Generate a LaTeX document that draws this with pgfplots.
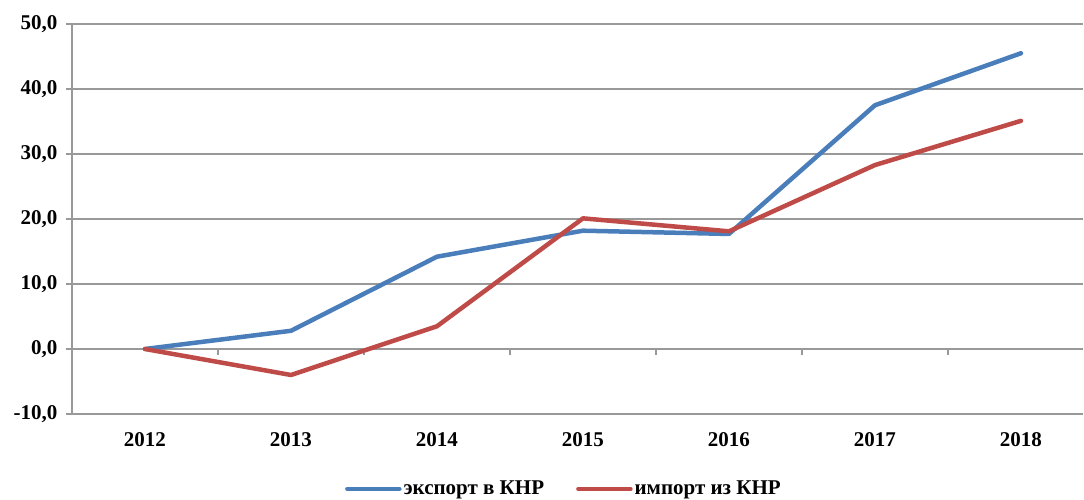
\documentclass[border=0pt]{standalone}
\usepackage{pgfplots}
\pgfplotsset{compat=1.18}
\usepackage{fontspec}
\setmainfont{Liberation Serif}
\definecolor{cblue}{HTML}{4A7EBB}
\definecolor{cred}{HTML}{BE4B48}
\definecolor{cgrid}{HTML}{999999}
\begin{document}
\begin{tikzpicture}[font=\fontsize{21}{25}\selectfont\bfseries]
\begin{axis}[
  scale only axis, width=1011pt, height=390pt,
  xmin=-0.5, xmax=6.425, ymin=-10, ymax=50,
  axis x line*=bottom, x axis line style={draw=none},
  axis y line*=left, y axis line style={draw=cgrid, line width=1.5pt},
  xtick={0,...,6}, xticklabels={2012,2013,2014,2015,2016,2017,2018},
  major x tick style={draw=none},
  ytick={-10,0,10,20,30,40,50},
  yticklabels={{-10,0},{0,0},{10,0},{20,0},{30,0},{40,0},{50,0}},
  ymajorgrids, grid style={cgrid, line width=1.5pt},
  tick align=outside, major tick length=6pt,
  major y tick style={cgrid, line width=1.5pt},
  xticklabel style={yshift=-9pt},
  yticklabel style={xshift=-5pt},
  legend columns=2,
  legend style={at={(0.267,-0.192)}, anchor=west, draw=none, fill=none,
    font=\fontsize{21}{25}\selectfont\bfseries,
    /tikz/every even column/.append style={column sep=30pt}},
  legend image code/.code={\draw[#1, line width=4.5pt, line cap=round] (0pt,0pt) -- (52pt,0pt);},
  every axis plot/.append style={line width=4.5pt, line join=round, line cap=round},
]
\pgfplotsinvokeforeach{0.5,1.5,2.5,3.5,4.5,5.5}{
  \draw[cgrid, line width=1.5pt] (axis cs:#1,0) -- ++(0pt,-6pt);
}
\addplot[cblue, mark=none] coordinates {(0,0) (1,2.8) (2,14.2) (3,18.2) (4,17.7) (5,37.5) (6,45.5)};
\addlegendentry{экспорт в КНР}
\addplot[cred, mark=none] coordinates {(0,0) (1,-4.0) (2,3.5) (3,20.1) (4,18.1) (5,28.3) (6,35.1)};
\addlegendentry{импорт из КНР}
\coordinate (ll) at (rel axis cs:0,0);
\coordinate (ur) at (rel axis cs:1,1);
\end{axis}
\pgfresetboundingbox
\path[use as bounding box] ([shift={(-72pt,-86pt)}]ll) rectangle ([shift={(1pt,24pt)}]ur);
\end{tikzpicture}
\end{document}
